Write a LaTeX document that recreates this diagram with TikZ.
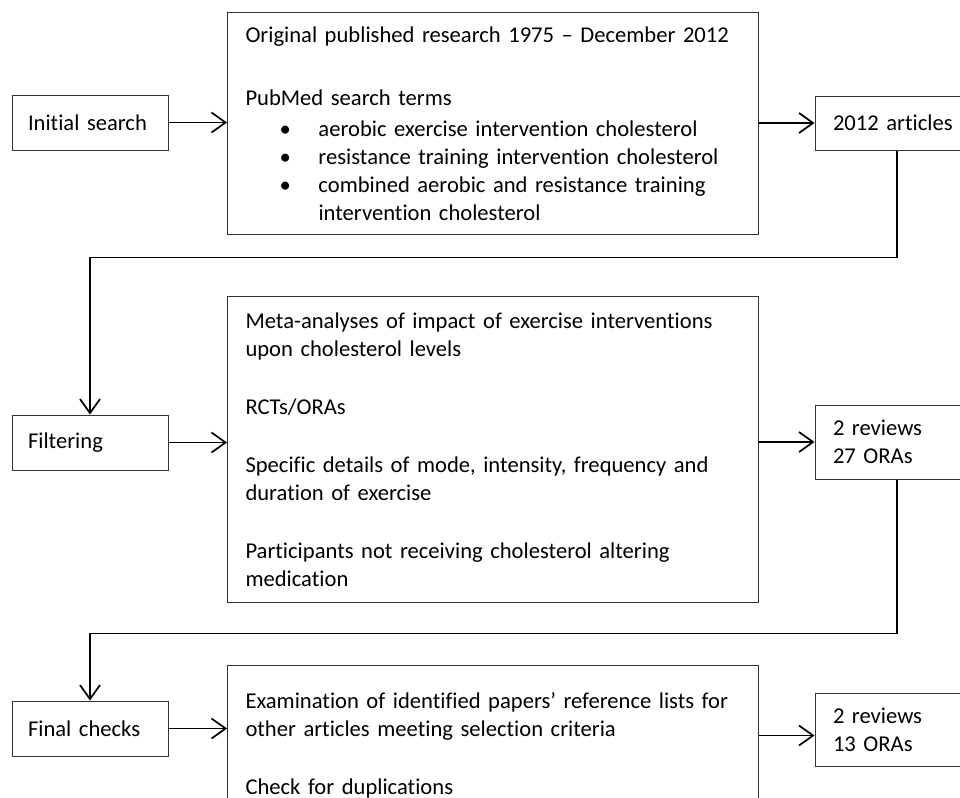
\documentclass[tikz,border=0pt]{standalone}
\usepackage{fontspec}
\setmainfont{Carlito}[Ligatures=NoCommon, WordSpace=0.9]
\usetikzlibrary{positioning, arrows.meta}

\newcommand{\termitem}{\hspace*{17pt}\makebox[19.5pt][l]{\textbullet}}
\newcommand{\termwrap}{\hspace*{36.5pt}}

\tikzset{
  boxtext/.style={font=\fontsize{11.3pt}{14pt}\selectfont},
  stage/.style={boxtext, draw=black!80, line width=0.5pt, minimum height=27.5pt, text width=62pt, inner xsep=8pt, align=left},
  detail/.style={boxtext, draw=black!80, line width=0.5pt, anchor=north west, text width=247.5pt, inner xsep=9pt, align=left},
  result/.style={boxtext, draw=black!80, line width=0.5pt, text width=64pt, inner xsep=9pt, align=left},
  flow/.style={line width=0.85pt, -{Straight Barb[length=7pt, width=10pt, line width=0.85pt]}}
}

\begin{document}
\begin{tikzpicture}[x=0.5pt, y=-0.5pt]
  \useasboundingbox (0,0) rectangle (960,798);
  \clip (0,0) rectangle (960,798);

  % left column
  \node[stage] (init) at (90,122.5) {Initial search};
  \node[stage] (filt) at (90,442.5) {Filtering};
  \node[stage] (final) at (90,728.5) {Final checks};

  % middle column
  \node[detail, minimum height=111pt, inner ysep=4.5pt] (terms) at (227,12) {Original published research 1975 – December 2012\\[17.5pt]
    PubMed search terms\\[1.5pt]
    \termitem aerobic exercise intervention cholesterol\\
    \termitem resistance training intervention cholesterol\\
    \termitem combined aerobic and resistance training\\
    \termwrap intervention cholesterol};
  \node[detail, minimum height=152.5pt, inner ysep=8pt] (crit) at (227,296) {Meta-analyses of impact of exercise interventions\\
    upon cholesterol levels\\[15pt]
    RCTs/ORAs\\[15pt]
    Specific details of mode, intensity, frequency and\\
    duration of exercise\\[15pt]
    Participants not receiving cholesterol altering\\
    medication};
  \node[detail, minimum height=80pt, inner ysep=8.5pt] (check) at (227,665) {Examination of identified papers’ reference lists for\\
    other articles meeting selection criteria\\[15pt]
    Check for duplications};

  % right column
  \node[result, minimum height=27pt] (art) at (897,123) {2012 articles};
  \node[result, minimum height=37pt] (rev1) at (897,442) {2 reviews\\27 ORAs};
  \node[result, minimum height=36.5pt] (rev2) at (897,729.5) {2 reviews\\13 ORAs};

  % connectors
  \draw[flow] (init) -- (terms.west |- init);
  \draw[flow] (terms.east |- art) -- (art);
  \draw[flow] (art.south) -- ++(0,107) -| (filt.north);
  \draw[flow] (filt) -- (crit.west |- filt);
  \draw[flow] (crit.east |- rev1) -- (rev1);
  \draw[flow] (rev1.south) -- ++(0,154) -| (final.north);
  \draw[flow] (final) -- (check.west |- final);
  \draw[flow] ([yshift=-3pt]check.east |- rev2.west) -- ([yshift=-3pt]rev2.west);
\end{tikzpicture}
\end{document}
